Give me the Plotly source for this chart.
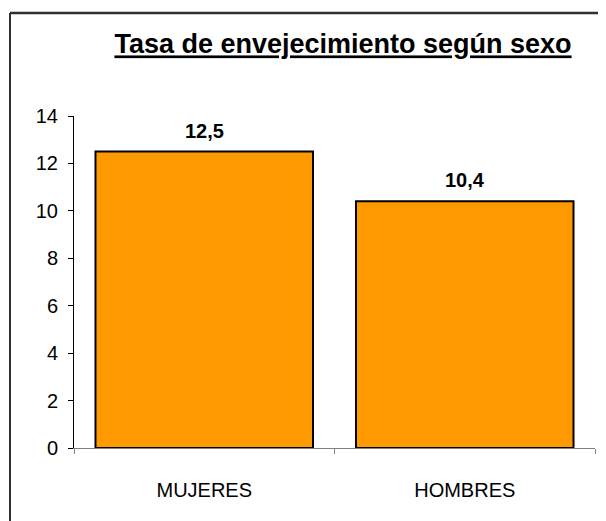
import plotly.graph_objects as go

categorias = ['MUJERES', 'HOMBRES']
tasa = [12.5, 10.4]
y_ticks = [0, 2, 4, 6, 8, 10, 12, 14]

# the page body adds 8px, so the figure is made 8px smaller and shifted
fig = go.Figure(go.Bar(x=categorias,
                       y=tasa,
                       marker=dict(color='#FF9900', line=dict(color='black', width=2)),
                       width=0.835,
                       hoverinfo='x+y'))

for cat, val in zip(categorias, tasa):
    fig.add_annotation(x=cat, y=val, text='<b>' + f'{val:.1f}'.replace('.', ',') + '</b>',
                       showarrow=False, yshift=21, font=dict(size=20, color='black'))

fig.update_layout(width=598, height=513,
                  margin=dict(l=66, r=11, t=108, b=73),
                  paper_bgcolor='white', plot_bgcolor='white',
                  font=dict(family='Liberation Sans, Arial, sans-serif', size=20, color='black'),
                  showlegend=False,
                  title=dict(text='<b>Tasa de envejecimiento según sexo</b>',
                             x=335 / 598, xanchor='center', y=1 - 36 / 513, yanchor='middle',
                             font=dict(size=27, color='black', lineposition='under')),
                  xaxis=dict(showline=True, linecolor='#808080', linewidth=1,
                             ticks='outside', tickson='boundaries', ticklen=5, tickcolor='#808080',
                             ticklabelstandoff=24, showgrid=False),
                  yaxis=dict(range=[0, 14], tickvals=y_ticks, showline=True, linecolor='black',
                             linewidth=1, ticks='outside', ticklen=5, tickcolor='black',
                             ticklabelstandoff=6, showgrid=False, zeroline=False))

# outer frame: only the top and left edges fall inside the window
frame_left = -64 / 521
frame_top = (440 - 5) / 332
fig.add_shape(type='line', xref='paper', yref='paper', layer='above',
              x0=frame_left, x1=1.05, y0=frame_top, y1=frame_top,
              line=dict(color='#303030', width=2.5))
fig.add_shape(type='line', xref='paper', yref='paper', layer='above',
              x0=frame_left, x1=frame_left, y0=frame_top, y1=-0.4,
              line=dict(color='#303030', width=2))

fig.write_html('out.html')
